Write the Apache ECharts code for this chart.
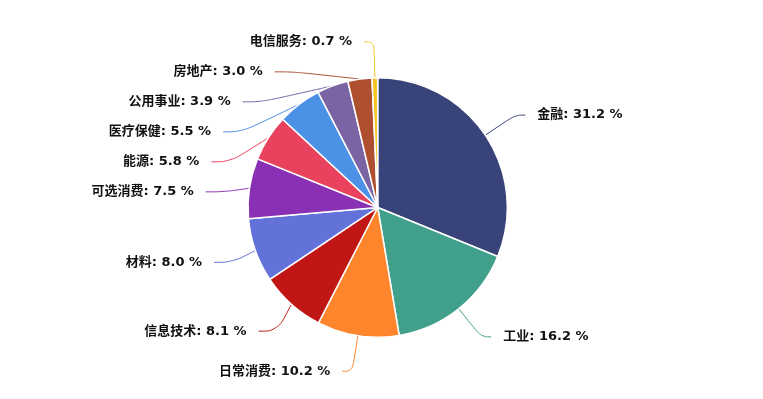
<!DOCTYPE html>
<html>
<head>
<meta charset="utf-8">
<script src="https://cdn.jsdelivr.net/npm/echarts@6/dist/echarts.min.js"></script>
<style>html,body{margin:0;padding:0;background:#fff}#c{width:763px;height:399px}</style>
</head>
<body>
<div id="c"></div>
<script>
const sectors = ['金融', '工业', '日常消费', '信息技术', '材料', '可选消费', '能源', '医疗保健', '公用事业', '房地产', '电信服务']
const shares = [31.2, 16.2, 10.2, 8.1, 8.0, 7.5, 5.8, 5.5, 3.9, 3.0, 0.7]
const colors = ['#38437a', '#40a08b', '#fe852b', '#c01616', '#6272d9', '#8a30b4', '#e8425e', '#4b91e6', '#7b64a3', '#ae4f2f', '#f5c324']

const chart = echarts.init(document.getElementById('c'), null, { renderer: 'canvas' })
chart.setOption({
  animation: false,
  textStyle: { fontFamily: 'DejaVu Sans, Noto Sans CJK SC, sans-serif' },
  series: [{
    type: 'pie', radius: '65%', center: ['49.5%', '52%'], startAngle: 90, clockwise: true,
    itemStyle: { borderColor: '#fff', borderWidth: 1.5 },
    label: {
      color: '#111', fontSize: 13, fontWeight: 'bold', lineHeight: 14, padding: [14, 0, 0, 0], distanceToLabelLine: 12,
      formatter: (p) => `${p.name}: ${p.value.toFixed(1)} %`,
    },
    labelLine: { smooth: 0.4, length: 36, length2: 10 },
    // left-side labels sit a little further out in the original
    data: sectors.map((n, i) => ({
      name: n, value: shares[i], itemStyle: { color: colors[i] },
      labelLine: i >= 3 && i <= 9 ? { length2: 19 } : undefined,
    })),
  }],
})
</script>
</body>
</html>
